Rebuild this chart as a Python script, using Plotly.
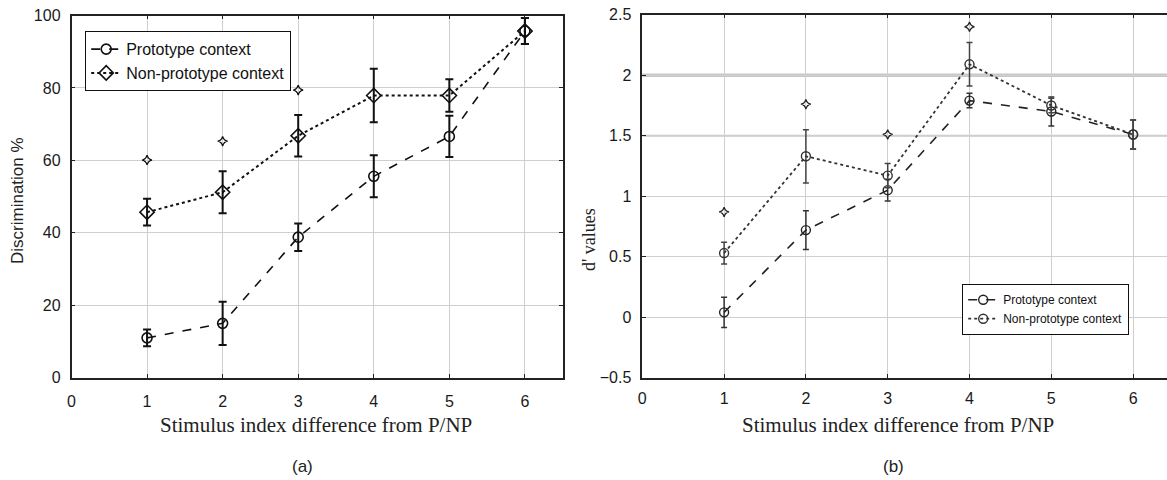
import plotly.graph_objects as go

# ---------------- data ----------------
x_idx = [1, 2, 3, 4, 5, 6]

disc_proto = [11.0, 15.0, 38.8, 55.6, 66.6, 95.7]
disc_proto_err = [2.3, 6.0, 3.8, 5.8, 5.7, 3.6]
disc_np = [45.7, 51.2, 66.8, 77.9, 77.9, 95.7]
disc_np_err = [3.7, 5.8, 5.7, 7.4, 4.5, 3.6]
disc_star_x = [1, 2, 3]
disc_star_y = [60.1, 65.3, 79.4]

d_proto = [0.04, 0.72, 1.05, 1.79, 1.70, 1.51]
d_proto_err = [0.125, 0.16, 0.09, 0.06, 0.12, 0.12]
d_np = [0.53, 1.33, 1.17, 2.09, 1.75, 1.51]
d_np_err = [0.09, 0.22, 0.10, 0.18, 0.06, 0.12]
d_star_x = [1, 2, 3, 4]
d_star_y = [0.87, 1.76, 1.51, 2.40]

x_title = "Stimulus index difference from P/NP"
y_title_a = "Discrimination %"
y_title_b = "d' values"
names = ["Prototype context", "Non-prototype context"]

W, H = 1167, 480
SANS = "Liberation Sans, Arial, sans-serif"
SERIF = "Liberation Serif, Times New Roman, serif"

fig = go.Figure()

# ----- panel (a) -----
fig.add_trace(go.Scatter(
    x=x_idx, y=disc_proto, name=names[0], mode="lines+markers",
    line=dict(color="#111", width=1.6, dash="dash"),
    marker=dict(symbol="circle-open", size=10, color="#111", line=dict(width=1.6)),
    error_y=dict(type="data", array=disc_proto_err, color="#111", thickness=2, width=4),
    xaxis="x", yaxis="y", legend="legend"))
fig.add_trace(go.Scatter(
    x=x_idx, y=disc_np, name=names[1], mode="lines+markers",
    line=dict(color="#111", width=2, dash="dot"),
    marker=dict(symbol="diamond-open", size=11, color="#111", line=dict(width=1.6)),
    error_y=dict(type="data", array=disc_np_err, color="#111", thickness=2, width=4),
    xaxis="x", yaxis="y", legend="legend"))
fig.add_trace(go.Scatter(
    x=disc_star_x, y=disc_star_y, mode="markers", showlegend=False,
    marker=dict(symbol="star-diamond-open", size=7, color="#111", line=dict(width=1.3)),
    xaxis="x", yaxis="y"))

# ----- panel (b) -----
fig.add_trace(go.Scatter(
    x=x_idx, y=d_proto, name=names[0], mode="lines+markers",
    line=dict(color="#222", width=1.6, dash="dash"),
    marker=dict(symbol="circle-open", size=9, color="#222", line=dict(width=1.4)),
    error_y=dict(type="data", array=d_proto_err, color="#333", thickness=1.5, width=3),
    xaxis="x2", yaxis="y2", legend="legend2"))
fig.add_trace(go.Scatter(
    x=x_idx, y=d_np, name=names[1], mode="lines+markers",
    line=dict(color="#333", width=1.8, dash="dot"),
    marker=dict(symbol="circle-open", size=9, color="#333", line=dict(width=1.4)),
    error_y=dict(type="data", array=d_np_err, color="#444", thickness=1.5, width=3),
    xaxis="x2", yaxis="y2", legend="legend2"))
fig.add_trace(go.Scatter(
    x=d_star_x, y=d_star_y, mode="markers", showlegend=False,
    marker=dict(symbol="star-diamond-open", size=7, color="#222", line=dict(width=1.3)),
    xaxis="x2", yaxis="y2"))

# ----- layout -----
def px_x(v):
    return v / W

def px_y(v):
    return 1 - v / H

axis_common = dict(
    showline=True, linecolor="#222", linewidth=1.5,
    showgrid=True, gridcolor="#cfcfcf", gridwidth=1,
    ticks="inside", ticklen=4, tickcolor="#222",
    tickfont=dict(family=SANS, size=16, color="#1a1a1a"),
    zeroline=False, automargin=False,
)

fig.update_layout(
    width=W, height=H, autosize=False,
    margin=dict(l=0, r=0, t=0, b=0, pad=0),
    paper_bgcolor="white", plot_bgcolor="white",
    xaxis=dict(axis_common, domain=[px_x(71.5), px_x(562.7)], range=[0, 6.5],
               tick0=0, dtick=1, mirror="ticks", anchor="y", ticklabelstandoff=8),
    yaxis=dict(axis_common, domain=[px_y(377.7), px_y(15.5)], range=[0, 100],
               tick0=0, dtick=20, mirror="ticks", anchor="x", ticklabelstandoff=6),
    xaxis2=dict(axis_common, domain=[px_x(642.3), 1.0], range=[0, (W - 642.3) / 81.8],
                tick0=0, dtick=1, mirror="ticks", anchor="y2", ticklabelstandoff=5),
    yaxis2=dict(axis_common, domain=[px_y(377.7), px_y(14.7)], range=[-0.5, 2.5],
                tick0=-0.5, dtick=0.5, mirror=False, anchor="x2", ticklabelstandoff=6),
    legend=dict(x=px_x(85), y=px_y(31), xanchor="left", yanchor="top",
                bgcolor="white", bordercolor="#111", borderwidth=1.2,
                font=dict(family=SANS, size=16, color="#111"),
                itemwidth=30, tracegroupgap=0),
    legend2=dict(x=px_x(962), y=px_y(284), xanchor="left", yanchor="top",
                 bgcolor="white", bordercolor="#111", borderwidth=1.2,
                 font=dict(family=SANS, size=12, color="#111"),
                 itemwidth=30, tracegroupgap=0),
    showlegend=True,
)

# emphasised grey gridlines of panel (b)
for yv, wv in [(2.0, 3.5), (1.5, 2)]:
    fig.add_shape(type="line", xref="x2 domain", yref="y2", x0=0, x1=1, y0=yv, y1=yv,
                  line=dict(color="#c8c8c8", width=wv), layer="below")

def txt(text, xp, yp, family, size, angle=0):
    return dict(text=text, x=px_x(xp), y=px_y(yp), xref="paper", yref="paper",
                xanchor="center", yanchor="middle", showarrow=False, textangle=angle,
                font=dict(family=family, size=size, color="#222"))

ann = [
    txt(x_title, 316, 425, SERIF, 21),
    txt(x_title, 898, 425, SERIF, 21),
    txt(y_title_a, 18, 201, SANS, 17, -90),
    txt(y_title_b, 589, 240, SERIF, 18, -90),
    txt("(a)", 302, 466, SANS, 17),
    txt("(b)", 893, 466, SANS, 17),
]
fig.update_layout(annotations=ann)

fig.write_html("out.html")
